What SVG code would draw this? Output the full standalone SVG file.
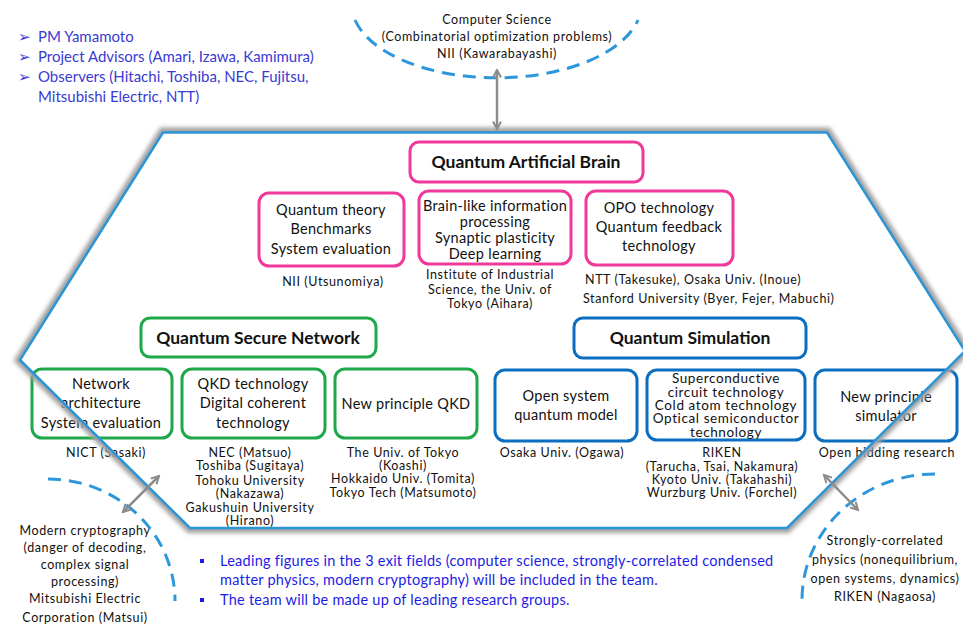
<svg xmlns="http://www.w3.org/2000/svg" width="963" height="636" viewBox="0 0 963 636">
<style>
text{font-family:Lato,"Liberation Sans",sans-serif;fill:#111;}
.t{font-size:14.5px;letter-spacing:0.3px;text-anchor:middle;}
.t5{font-size:13.5px;letter-spacing:0.6px;text-anchor:middle;}
.s{font-size:12.5px;letter-spacing:0.6px;text-anchor:middle;}
.h{font-size:17.5px;font-weight:bold;text-anchor:middle;}
.pk{fill:#fff;stroke:#f0399a;stroke-width:3;}
.gr{fill:#fff;stroke:#1fa84a;stroke-width:3;}
.bl{fill:#fff;stroke:#0a6fc0;stroke-width:3;}
.note{font-size:15px;fill:#3a3ad4;}
.foot{font-size:14.5px;letter-spacing:0.25px;fill:#1c1ce6;}
.dash{fill:none;stroke:#2d97dc;stroke-width:3;stroke-dasharray:13 8;}
.arr{stroke:#8c8c8c;stroke-width:2.5;fill:none;marker-start:url(#ah);marker-end:url(#ah);}
</style>
<defs>
<filter id="blur" x="-10%" y="-10%" width="120%" height="120%"><feGaussianBlur stdDeviation="2.2"/></filter>
<mask id="outside"><rect width="963" height="636" fill="#fff"/><polygon points="163,132.5 827,132.5 965,351 787,528 190,528 20,360" fill="#000"/></mask>
<marker id="ah" viewBox="0 0 10 10" refX="8.5" refY="5" markerWidth="4" markerHeight="4" orient="auto-start-reverse"><path d="M1,1 L8.5,5 L1,9" fill="none" stroke="#8c8c8c" stroke-width="2"/></marker>
</defs>
<rect width="963" height="636" fill="#fff"/>

<g id="header-notes">
<text class="note" x="18" y="42">➢</text><text class="note" x="38" y="42">PM Yamamoto</text>
<text class="note" x="18" y="62">➢</text><text class="note" x="38" y="62">Project Advisors (Amari, Izawa, Kamimura)</text>
<text class="note" x="18" y="82">➢</text><text class="note" x="38" y="82">Observers (Hitachi, Toshiba, NEC, Fujitsu,</text>
<text class="note" x="38" y="102">Mitsubishi Electric, NTT)</text>
</g>

<g id="cs-field">
<text class="s" x="497" y="24">Computer Science</text>
<text class="s" x="497" y="41">(Combinatorial optimization problems)</text>
<text class="s" x="497" y="58">NII (Kawarabayashi)</text>
</g>

<g id="qab-title"><rect class="pk" x="410" y="142" width="233" height="40" rx="9"/><text class="h" x="526" y="168">Quantum Artificial Brain</text></g>
<g id="qab-theory"><rect class="pk" x="259" y="193" width="145" height="73" rx="10"/>
<text class="t" x="331" y="215">Quantum theory</text><text class="t" x="331" y="234">Benchmarks</text><text class="t" x="331" y="254">System evaluation</text>
<text class="s" x="333" y="286">NII (Utsunomiya)</text></g>
<g id="qab-brain"><rect class="pk" x="419" y="191" width="152" height="73" rx="10"/>
<text class="t" x="495" y="211">Brain-like information</text><text class="t" x="495" y="227">processing</text><text class="t" x="495" y="243">Synaptic plasticity</text><text class="t" x="495" y="259">Deep learning</text>
<text class="s" x="490" y="279">Institute of Industrial</text><text class="s" x="490" y="294">Science, the Univ. of</text><text class="s" x="490" y="308">Tokyo (Aihara)</text></g>
<g id="qab-opo"><rect class="pk" x="586" y="191" width="147" height="74" rx="10"/>
<text class="t" x="659" y="213">OPO technology</text><text class="t" x="659" y="232">Quantum feedback</text><text class="t" x="659" y="251">technology</text>
<text class="s" x="585" y="284" style="text-anchor:start">NTT (Takesuke), Osaka Univ. (Inoue)</text>
<text class="s" x="583" y="303" style="text-anchor:start">Stanford University (Byer, Fejer, Mabuchi)</text></g>

<g id="qsn-title"><rect class="gr" x="141" y="318" width="235" height="39" rx="9"/><text class="h" x="258" y="344">Quantum Secure Network</text></g>
<g id="qsn-arch"><rect class="gr" x="32" y="369" width="140" height="69" rx="10"/>
<text class="t" x="101" y="389">Network</text><text class="t" x="101" y="408">architecture</text><text class="t" x="101" y="428">System evaluation</text>
<text class="s" x="106" y="457">NICT (Sasaki)</text></g>
<g id="qsn-qkd"><rect class="gr" x="182" y="369" width="143" height="69" rx="10"/>
<text class="t" x="253" y="389">QKD technology</text><text class="t" x="253" y="408">Digital coherent</text><text class="t" x="253" y="428">technology</text>
<text class="s" x="250" y="457">NEC (Matsuo)</text><text class="s" x="250" y="470">Toshiba (Sugitaya)</text><text class="s" x="250" y="485">Tohoku University</text><text class="s" x="250" y="498">(Nakazawa)</text><text class="s" x="250" y="512">Gakushuin University</text><text class="s" x="250" y="525">(Hirano)</text></g>
<g id="qsn-new"><rect class="gr" x="335" y="369" width="142" height="69" rx="10"/>
<text class="t" x="406" y="409">New principle QKD</text>
<text class="s" x="403" y="457">The Univ. of Tokyo</text><text class="s" x="403" y="470">(Koashi)</text><text class="s" x="403" y="483">Hokkaido Univ. (Tomita)</text><text class="s" x="403" y="497">Tokyo Tech (Matsumoto)</text></g>

<g id="qs-title"><rect class="bl" x="574" y="318" width="232" height="40" rx="9"/><text class="h" x="690" y="344">Quantum Simulation</text></g>
<g id="qs-open"><rect class="bl" x="495" y="370" width="142" height="71" rx="10"/>
<text class="t" x="566" y="401">Open system</text><text class="t" x="566" y="420">quantum model</text>
<text class="s" x="562" y="457">Osaka Univ. (Ogawa)</text></g>
<g id="qs-sc"><rect class="bl" x="647" y="370" width="158" height="70" rx="10"/>
<text class="t5" x="726" y="383">Superconductive</text><text class="t5" x="726" y="397">circuit technology</text><text class="t5" x="726" y="410">Cold atom technology</text><text class="t5" x="726" y="423">Optical semiconductor</text><text class="t5" x="726" y="437">technology</text>
<text class="s" x="722" y="457">RIKEN</text><text class="s" x="722" y="471">(Tarucha, Tsai, Nakamura)</text><text class="s" x="722" y="484">Kyoto Univ. (Takahashi)</text><text class="s" x="722" y="497">Wurzburg Univ. (Forchel)</text></g>
<g id="qs-new"><rect class="bl" x="815" y="370" width="142" height="71" rx="10"/>
<text class="t" x="886" y="402">New principle</text><text class="t" x="886" y="421">simulator</text>
<text class="s" x="887" y="457">Open bidding research</text></g>

<g id="frame">
<polygon points="163,132.5 827,132.5 965,351 787,528 190,528 20,360" fill="none" stroke="#a0a0a0" stroke-width="10" filter="url(#blur)" mask="url(#outside)"/>
<polygon points="163,132.5 827,132.5 965,351 787,528 190,528 20,360" fill="none" stroke="#2b95d8" stroke-width="2.5"/>
</g>

<g id="crypto-field">
<text class="s" x="85" y="535">Modern cryptography</text>
<text class="s" x="85" y="552">(danger of decoding,</text>
<text class="s" x="85" y="569">complex signal</text>
<text class="s" x="85" y="586">processing)</text>
<text class="s" x="85" y="603">Mitsubishi Electric</text>
<text class="s" x="85" y="622">Corporation (Matsui)</text>
</g>
<g id="physics-field">
<text class="s" x="885" y="545">Strongly-correlated</text>
<text class="s" x="885" y="564">physics (nonequilibrium,</text>
<text class="s" x="885" y="583">open systems, dynamics)</text>
<text class="s" x="885" y="601">RIKEN (Nagaosa)</text>
</g>

<g id="footnote">
<rect x="200" y="559" width="4" height="4" fill="#1c1ce6"/>
<text class="foot" x="220" y="566">Leading figures in the 3 exit fields (computer science, strongly-correlated condensed</text>
<text class="foot" x="220" y="585">matter physics, modern cryptography) will be included in the team.</text>
<rect x="200" y="598" width="4" height="4" fill="#1c1ce6"/>
<text class="foot" x="220" y="605">The team will be made up of leading research groups.</text>
</g>

<g id="connectors">
<path class="dash" d="M 355 20 A 145 74 0 0 0 638 20"/>
<path class="dash" d="M 48 479 A 127 122 0 0 1 175 601"/>
<path class="dash" d="M 935 474 A 133 126 0 0 0 802 600"/>
<line class="arr" x1="497" y1="70" x2="497" y2="129"/>
<line class="arr" x1="123" y1="512" x2="159" y2="476"/>
<line class="arr" x1="824" y1="475" x2="858" y2="510"/>
</g>
</svg>
